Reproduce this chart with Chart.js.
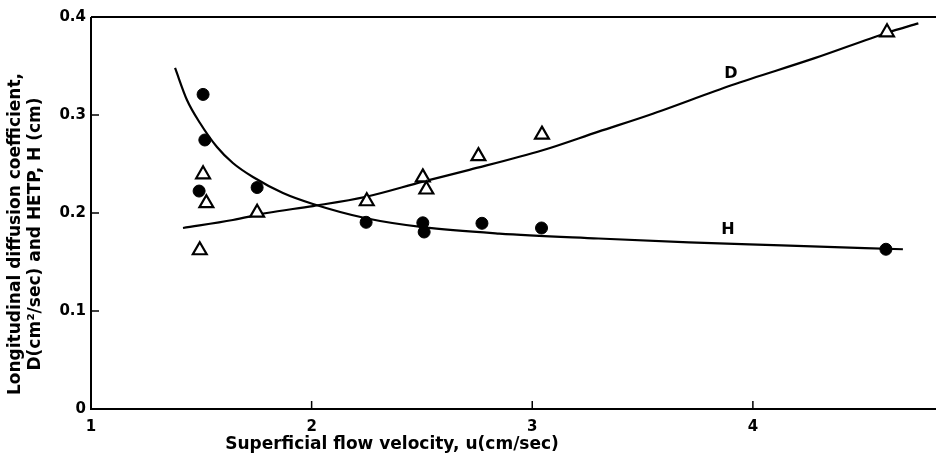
<!DOCTYPE html>
<html>
<head>
<meta charset="utf-8">
<script src="https://cdn.jsdelivr.net/npm/chart.js@4/dist/chart.umd.min.js"></script>
<style>
  html, body { margin: 0; padding: 0; background: #fff; }
  #wrap { width: 936px; height: 455px; }
</style>
</head>
<body>
<div id="wrap"><canvas id="chart"></canvas></div>
<script>
// H = HETP (filled circles), D = longitudinal diffusion coefficient (open triangles)
const hX = [1.508, 1.516, 1.49, 1.753, 2.247, 2.504, 2.51, 2.772, 3.042, 4.603];
const hY = [0.321, 0.2745, 0.2224, 0.226, 0.1905, 0.190, 0.1806, 0.1895, 0.1847, 0.163];
const dX = [1.508, 1.523, 1.493, 1.753, 2.25, 2.504, 2.52, 2.756, 3.044, 4.608];
const dY = [0.2395, 0.21, 0.162, 0.2003, 0.212, 0.2364, 0.224, 0.258, 0.28, 0.3844];

// the two hand-drawn fit curves
const hCurveX = [1.381, 1.435, 1.494, 1.571, 1.643, 1.734, 1.87, 2.006, 2.247, 2.504, 2.85, 3.30, 3.71, 4.13, 4.68];
const hCurveY = [0.348, 0.3153, 0.2918, 0.2673, 0.251, 0.2367, 0.2204, 0.2092, 0.1946, 0.1855, 0.179, 0.174, 0.170, 0.167, 0.163];
const dCurveX = [1.417, 1.643, 1.797, 2.006, 2.247, 2.504, 2.715, 3.047, 3.30, 3.53, 3.906, 4.28, 4.61, 4.75];
const dCurveY = [0.1847, 0.1929, 0.2, 0.2071, 0.2166, 0.232, 0.244, 0.264, 0.283, 0.300, 0.3306, 0.358, 0.384, 0.3935];

const xTicks = [1, 2, 3, 4];
const yTicks = [0, 0.1, 0.2, 0.3, 0.4];
const curveNames = ['D', 'H'];
const curveNameX = [3.90, 3.887];
const curveNameY = [0.3425, 0.1827];
const xTitle = 'Superficial flow velocity, u(cm/sec)';
const yTitle = ['Longitudinal diffusion coefficient,', 'D(cm\u00b2/sec) and HETP, H (cm)'];

const FONT = "'DejaVu Sans', sans-serif";
const toXY = (xs, ys) => xs.map((x, i) => ({ x: x, y: ys[i] }));

// frame lines, inward ticks, axis titles and the D / H curve names
const framePlugin = {
  id: 'frame',
  afterDraw(chart) {
    const ctx = chart.ctx;
    const a = chart.chartArea;
    const xs = chart.scales.x, ys = chart.scales.y;
    ctx.save();
    ctx.strokeStyle = '#000';
    ctx.lineWidth = 2;
    ctx.beginPath();
    ctx.moveTo(a.left, a.top);
    ctx.lineTo(a.left, a.bottom);
    ctx.lineTo(a.right, a.bottom);
    ctx.moveTo(a.left, a.top);
    ctx.lineTo(a.right, a.top);
    ctx.stroke();
    ctx.lineWidth = 1.5;
    ctx.beginPath();
    yTicks.forEach(v => {
      const py = ys.getPixelForValue(v);
      ctx.moveTo(a.left, py);
      ctx.lineTo(a.left + 8, py);
    });
    xTicks.forEach(v => {
      const px = xs.getPixelForValue(v);
      ctx.moveTo(px, a.bottom);
      ctx.lineTo(px, a.bottom - 8);
    });
    ctx.stroke();

    ctx.fillStyle = '#000';
    ctx.textAlign = 'center';
    ctx.textBaseline = 'middle';
    ctx.font = "bold 16px " + FONT;
    curveNames.forEach((n, i) => {
      ctx.fillText(n, xs.getPixelForValue(curveNameX[i]), ys.getPixelForValue(curveNameY[i]));
    });

    // axis titles sit off-centre in the original, so place them by hand
    ctx.font = "bold 17px " + FONT;
    ctx.fillText(xTitle, 392, 445);
    ctx.translate(0, 234);
    ctx.rotate(-Math.PI / 2);
    ctx.fillText(yTitle[0], 0, 16);
    ctx.fillText(yTitle[1], 0, 36);
    ctx.restore();
  }
};

new Chart(document.getElementById('chart'), {
  type: 'scatter',
  data: {
    datasets: [
      {
        label: 'H curve',
        data: toXY(hCurveX, hCurveY),
        showLine: true,
        borderColor: '#000',
        borderWidth: 2.2,
        pointRadius: 0,
        cubicInterpolationMode: 'monotone',
        order: 3
      },
      {
        label: 'D curve',
        data: toXY(dCurveX, dCurveY),
        showLine: true,
        borderColor: '#000',
        borderWidth: 2.2,
        pointRadius: 0,
        cubicInterpolationMode: 'monotone',
        order: 3
      },
      {
        label: 'H',
        data: toXY(hX, hY),
        pointStyle: 'circle',
        pointRadius: 6,
        backgroundColor: '#000',
        borderColor: '#000',
        order: 1
      },
      {
        label: 'D',
        data: toXY(dX, dY),
        pointStyle: 'triangle',
        pointRadius: 8,
        backgroundColor: '#fff',
        borderColor: '#000',
        borderWidth: 2.2,
        order: 1
      }
    ]
  },
  options: {
    responsive: true,
    maintainAspectRatio: false,
    animation: false,
    layout: { autoPadding: false, padding: { top: 17, right: 0, left: 0, bottom: 0 } },
    plugins: {
      legend: { display: false },
      tooltip: { enabled: false }
    },
    scales: {
      x: {
        type: 'linear',
        min: 1,
        max: 4.83,
        afterBuildTicks: s => { s.ticks = xTicks.map(v => ({ value: v })); },
        afterFit: s => { s.height = 46; },
        grid: { display: false, drawTicks: false },
        border: { display: false },
        ticks: {
          color: '#000',
          padding: 9,
          font: { family: FONT, size: 15, weight: 'bold' }
        },
        title: { display: false }
      },
      y: {
        type: 'linear',
        min: 0,
        max: 0.4,
        afterBuildTicks: s => { s.ticks = yTicks.map(v => ({ value: v })); },
        afterFit: s => { s.width = 91; },
        grid: { display: false, drawTicks: false },
        border: { display: false },
        ticks: {
          color: '#000',
          padding: 5,
          font: { family: FONT, size: 15, weight: 'bold' }
        },
        title: { display: false }
      }
    }
  },
  plugins: [framePlugin]
});
</script>
</body>
</html>
